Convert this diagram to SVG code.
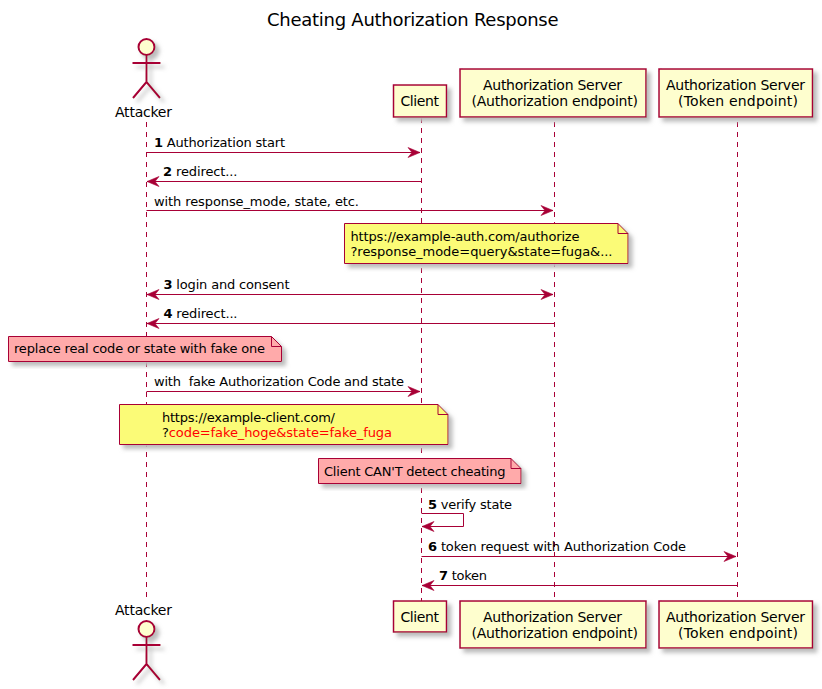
<svg xmlns="http://www.w3.org/2000/svg" width="822" height="689" viewBox="0 0 822 689">
<defs>
<filter id="sh" x="-10%" y="-20%" width="125%" height="150%"><feGaussianBlur in="SourceAlpha" stdDeviation="2"/><feColorMatrix values="0 0 0 0 0.5 0 0 0 0 0.5 0 0 0 0 0.5 0 0 0 1 0"/><feOffset dx="4" dy="4" result="b"/><feMerge><feMergeNode in="b"/><feMergeNode in="SourceGraphic"/></feMerge></filter>
<filter id="sha" x="-50%" y="-20%" width="220%" height="150%"><feGaussianBlur in="SourceAlpha" stdDeviation="2"/><feColorMatrix values="0 0 0 0 0.5 0 0 0 0 0.5 0 0 0 0 0.5 0 0 0 1 0"/><feOffset dx="4" dy="4" result="b"/><feMerge><feMergeNode in="b"/><feMergeNode in="SourceGraphic"/></feMerge></filter>
<marker id="a" markerUnits="userSpaceOnUse" markerWidth="14" markerHeight="12" refX="12" refY="5" orient="auto-start-reverse" overflow="visible"><path d="M0,0 L12,5 L0,10 L4,5 Z" fill="#A80036" stroke="#A80036" stroke-width="0.6"/></marker>
<g id="stick" fill="none" stroke="#A80036" stroke-width="2"><circle cx="0" cy="8" r="8" fill="#FEFECE"/><path d="M0,16 V43 M-14,24 H14 M0,43 L-13.500,59 M0,43 L13.500,59"/></g>
</defs>
<style>
text{font-family:"DejaVu Sans",sans-serif;font-size:13px;fill:#000;white-space:pre}
.life{stroke:#A80036;stroke-width:1;stroke-dasharray:5 5;fill:none}
.box{fill:#FEFECE;stroke:#A80036;stroke-width:1.5}
.msg{stroke:#A80036;stroke-width:1;fill:none;marker-end:url(#a)}
.y{fill:#FBFB77;stroke:#A80036;stroke-width:1}
.r{fill:#FFAAAA;stroke:#A80036;stroke-width:1}
.f{fill:none;stroke:#A80036;stroke-width:1}
.m{font-size:14px}
.b{font-weight:bold}
</style>
<rect width="822" height="689" fill="#fff"/>
<text x="267" y="26" textLength="291.500" style="font-size:18px">Cheating Authorization Response</text>

<g id="lifelines">
<path class="life" d="M146.500,122 V601"/>
<path class="life" d="M421.500,118 V601"/>
<path class="life" d="M554.500,122 V601"/>
<path class="life" d="M737.500,122 V601"/>
</g>

<g id="attacker-top"><use href="#stick" x="146.500" y="39" filter="url(#sha)"/><text class="m" x="115" y="117" textLength="57">Attacker</text></g>
<g id="client-top"><rect class="box" x="393.500" y="85" width="53" height="32" filter="url(#sh)"/><text class="m" x="400.500" y="106" textLength="38.500">Client</text></g>
<g id="authz-top"><rect class="box" x="460" y="69" width="186" height="48" filter="url(#sh)"/><text class="m" x="483" y="90" textLength="139">Authorization Server</text><text class="m" x="471.500" y="106" textLength="166.500">(Authorization endpoint)</text></g>
<g id="token-top"><rect class="box" x="659" y="69" width="153.500" height="48" filter="url(#sh)"/><text class="m" x="666" y="90" textLength="139">Authorization Server</text><text class="m" x="678" y="106" textLength="120">(Token endpoint)</text></g>

<g id="attacker-bottom"><text class="m" x="115" y="615" textLength="57">Attacker</text><use href="#stick" x="146.500" y="621" filter="url(#sha)"/></g>
<g id="client-bottom"><rect class="box" x="393.500" y="601" width="53" height="31" filter="url(#sh)"/><text class="m" x="400.500" y="622" textLength="38.500">Client</text></g>
<g id="authz-bottom"><rect class="box" x="460" y="601" width="186" height="47" filter="url(#sh)"/><text class="m" x="483" y="622" textLength="139">Authorization Server</text><text class="m" x="471.500" y="638" textLength="166.500">(Authorization endpoint)</text></g>
<g id="token-bottom"><rect class="box" x="659" y="601" width="153.500" height="47" filter="url(#sh)"/><text class="m" x="666" y="622" textLength="139">Authorization Server</text><text class="m" x="678" y="638" textLength="120">(Token endpoint)</text></g>

<g id="connectors">
<path class="msg" d="M146.500,152.500 H420"/>
<path class="msg" d="M421.500,181.500 H147"/>
<path class="msg" d="M146.500,210.500 H553"/>
<path class="msg" style="marker-start:url(#a)" d="M147,294.500 H553"/>
<path class="msg" d="M554.500,323.500 H147"/>
<path class="msg" d="M146.500,391.500 H420"/>
<path class="msg" d="M421.500,513.500 H463.500 V526.500 H422"/>
<path class="msg" d="M421.500,556.500 H736"/>
<path class="msg" d="M737.500,585.500 H422"/>
</g>

<g id="labels">
<text x="154" y="147" textLength="131"><tspan class="b">1</tspan> Authorization start</text>
<text x="163" y="176" textLength="74.500"><tspan class="b">2</tspan> redirect...</text>
<text x="154" y="206" textLength="205">with response_mode, state, etc.</text>
<text x="163.500" y="289" textLength="126"><tspan class="b">3</tspan> login and consent</text>
<text x="163.500" y="318" textLength="74"><tspan class="b">4</tspan> redirect...</text>
<text x="154" y="386" textLength="250">with  fake Authorization Code and state</text>
<text x="428" y="509" textLength="84"><tspan class="b">5</tspan> verify state</text>
<text x="428" y="551" textLength="258"><tspan class="b">6</tspan> token request with Authorization Code</text>
<text x="439" y="580" textLength="48"><tspan class="b">7</tspan> token</text>
</g>

<g id="note-authorize"><path class="y" filter="url(#sh)" d="M344.500,223.500 H618 L628,233.500 V263.500 H344.500 Z"/><path class="f" d="M618,223.500 V233.500 H628"/><text x="350.500" y="241" textLength="229">https://example-auth.com/authorize</text><text x="350.500" y="256" textLength="262">?response_mode=query&amp;state=fuga&amp;...</text></g>
<g id="note-replace"><path class="r" filter="url(#sh)" d="M8.500,336.500 H271.500 L281.500,346.500 V361.500 H8.500 Z"/><path class="f" d="M271.500,336.500 V346.500 H281.500"/><text x="14" y="353" textLength="251">replace real code or state with fake one</text></g>
<g id="note-client"><path class="y" filter="url(#sh)" d="M119.500,404.500 H438 L448,414.500 V444.500 H119.500 Z"/><path class="f" d="M438,404.500 V414.500 H448"/><text x="162" y="422" textLength="173">https://example-client.com/</text><text x="162" y="437" textLength="230">?<tspan style="fill:#FF0000">code=fake_hoge&amp;state=fake_fuga</tspan></text></g>
<g id="note-cheating"><path class="r" filter="url(#sh)" d="M318.500,458.500 H511 L521,468.500 V483.500 H318.500 Z"/><path class="f" d="M511,458.500 V468.500 H521"/><text x="324" y="476" textLength="181.500">Client CAN'T detect cheating</text></g>
</svg>
